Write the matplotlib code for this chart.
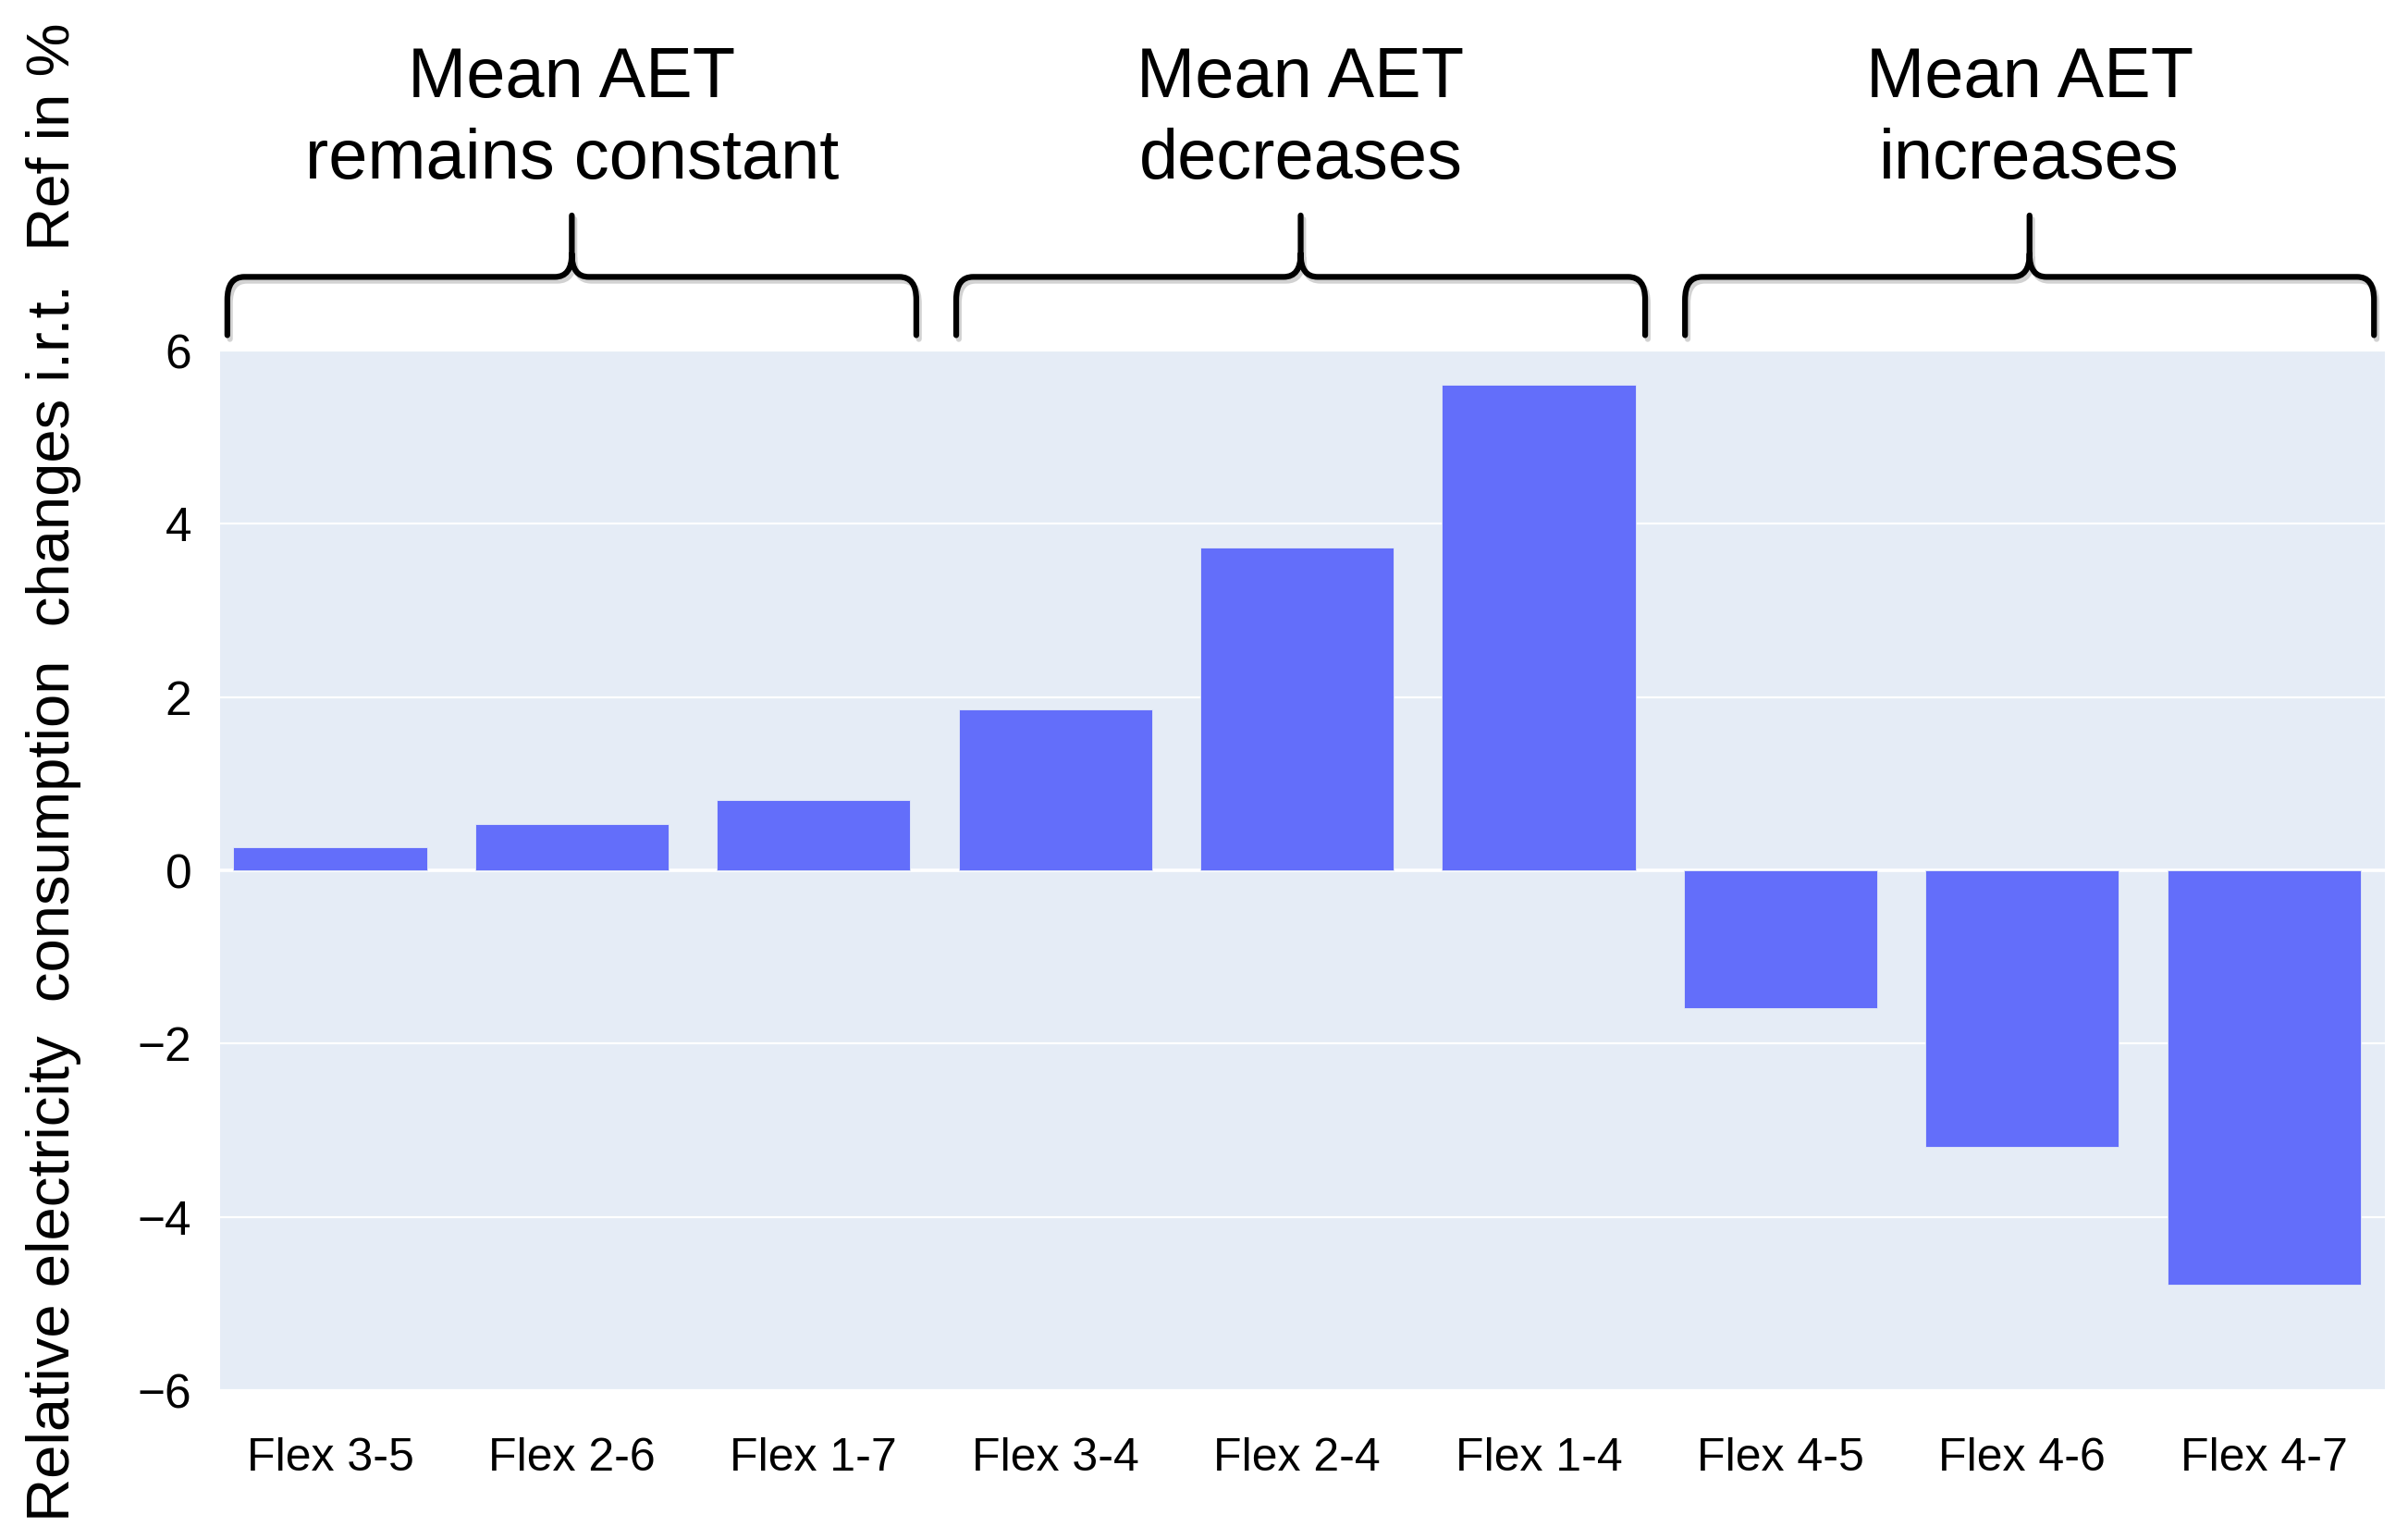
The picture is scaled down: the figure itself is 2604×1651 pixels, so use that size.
import matplotlib
matplotlib.use('Agg')
import matplotlib.pyplot as plt
from matplotlib.path import Path
from matplotlib.patches import PathPatch
import matplotlib.transforms as mtransforms
import matplotlib.patheffects as pe

categories = ['Flex 3-5', 'Flex 2-6', 'Flex 1-7', 'Flex 3-4', 'Flex 2-4',
              'Flex 1-4', 'Flex 4-5', 'Flex 4-6', 'Flex 4-7']
values = [0.27, 0.53, 0.81, 1.86, 3.73, 5.61, -1.59, -3.19, -4.78]
group_labels = ['Mean AET\nremains constant', 'Mean AET\ndecreases', 'Mean AET\nincreases']
group_sizes = [3, 3, 3]
yticks = [-6, -4, -2, 0, 2, 4, 6]
ylabel = 'Relative electricity  consumption  changes i.r.t.  Ref in %'

plt.rcParams['font.family'] = ['Liberation Sans', 'DejaVu Sans']

fig = plt.figure(figsize=(26.04, 16.51), dpi=100)
ax = fig.add_axes([0.0914, 0.0896, 0.899, 0.6808])
ax.set_facecolor('#e5ecf6')

xpos = list(range(len(categories)))
ax.bar(xpos, values, width=0.8, color='#636efa', edgecolor='#e5ecf6',
       linewidth=0.6, zorder=3)
ax.set_xlim(-0.455, len(categories) - 0.5)
ax.set_ylim(-6, 6)
ax.set_yticks(yticks)
ax.set_yticklabels([str(t).replace('-', '\u2212') for t in yticks])
ax.set_xticks(xpos)
ax.set_xticklabels(categories)
ax.grid(axis='y', color='white', lw=1.6, zorder=1)
ax.grid(axis='x', visible=False)
ax.axhline(0, color='white', lw=2.6, zorder=2)
for s in ax.spines.values():
    s.set_visible(False)
ax.tick_params(axis='y', length=0, labelsize=37, pad=22)
ax.tick_params(axis='x', length=0, labelsize=36, pad=37)

blend = mtransforms.blended_transform_factory(ax.transData, ax.transAxes)

yb, yh, yt = 1.0148, 1.0709, 1.130
rx, ry = 0.07, 0.022
start = 0
for gi, (lab, n) in enumerate(zip(group_labels, group_sizes)):
    c = start + (n - 1) / 2
    cb = c + 0.015 * gi
    half = n / 2 - 0.075
    x0, x1 = cb - half, cb + half
    verts = [
        (x0, yb), (x0, yh - ry), (x0, yh), (x0 + rx, yh),
        (cb - rx, yh), (cb, yh), (cb, yh + ry), (cb, yt),
        (cb, yh + ry), (cb, yh), (cb + rx, yh),
        (x1 - rx, yh), (x1, yh), (x1, yh - ry), (x1, yb),
    ]
    codes = [Path.MOVETO, Path.LINETO, Path.CURVE3, Path.CURVE3,
             Path.LINETO, Path.CURVE3, Path.CURVE3, Path.LINETO,
             Path.MOVETO, Path.CURVE3, Path.CURVE3,
             Path.LINETO, Path.CURVE3, Path.CURVE3, Path.LINETO]
    patch = PathPatch(Path(verts, codes), facecolor='none', edgecolor='black',
                      lw=4.5, transform=blend, clip_on=False, capstyle='round',
                      joinstyle='round',
                      path_effects=[pe.SimpleLineShadow(offset=(2, -3), shadow_color='gray', alpha=0.35),
                                    pe.Normal()])
    ax.add_patch(patch)
    ax.text(cb, 1.222, lab, transform=blend, ha='center', va='center',
            fontsize=54.5, linespacing=1.3, color='black')
    start += n

fig.text(58 / 2604, 1 - 835 / 1651, ylabel, rotation=90, ha='center', va='center',
         fontsize=47, color='black')

fig.savefig('out.png', dpi=100, facecolor='white')
